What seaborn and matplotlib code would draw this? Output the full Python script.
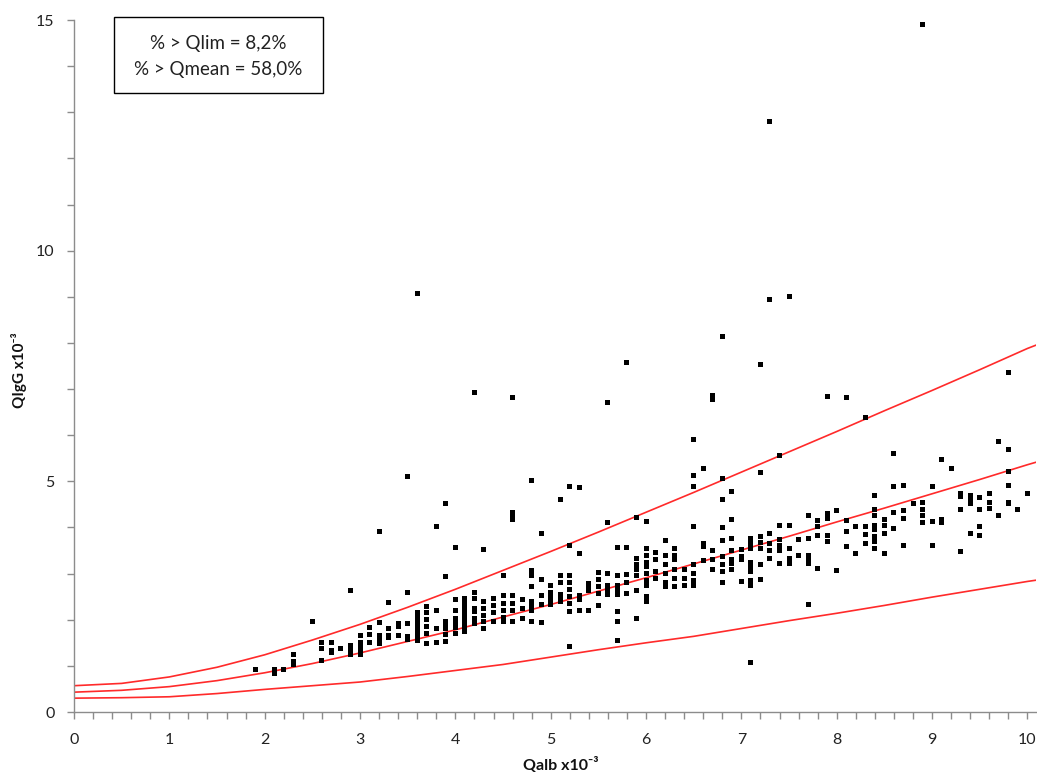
import matplotlib
matplotlib.use("Agg")
import matplotlib.pyplot as plt
import seaborn as sns
import pandas as pd
from matplotlib.patches import Rectangle
from matplotlib.ticker import MultipleLocator

# ---------------- data ----------------
qalb_pts = [
    1.9,
    2.1, 2.1,
    2.2,
    2.3, 2.3, 2.3,
    2.5,
    2.6, 2.6, 2.6,
    2.7, 2.7, 2.7,
    2.8,
    2.9, 2.9, 2.9, 2.9, 2.9,
    3.0, 3.0, 3.0, 3.0, 3.0,
    3.1, 3.1, 3.1,
    3.2, 3.2, 3.2, 3.2, 3.2,
    3.3, 3.3, 3.3, 3.3,
    3.4, 3.4, 3.4,
    3.5, 3.5, 3.5, 3.5, 3.5,
    3.6, 3.6, 3.6, 3.6, 3.6, 3.6, 3.6, 3.6,
    3.7, 3.7, 3.7, 3.7, 3.7, 3.7,
    3.8, 3.8, 3.8, 3.8,
    3.9, 3.9, 3.9, 3.9, 3.9, 3.9, 3.9,
    4.0, 4.0, 4.0, 4.0, 4.0, 4.0, 4.0,
    4.1, 4.1, 4.1, 4.1, 4.1, 4.1, 4.1, 4.1,
    4.2, 4.2, 4.2, 4.2, 4.2, 4.2, 4.2,
    4.3, 4.3, 4.3, 4.3, 4.3, 4.3,
    4.4, 4.4, 4.4, 4.4,
    4.5, 4.5, 4.5, 4.5, 4.5, 4.5,
    4.6, 4.6, 4.6, 4.6, 4.6, 4.6, 4.6, 4.6,
    4.7, 4.7, 4.7,
    4.8, 4.8, 4.8, 4.8, 4.8, 4.8, 4.8, 4.8,
    4.9, 4.9, 4.9, 4.9, 4.9,
    5.0, 5.0, 5.0, 5.0, 5.0,
    5.1, 5.1, 5.1, 5.1, 5.1, 5.1,
    5.2, 5.2, 5.2, 5.2, 5.2, 5.2, 5.2, 5.2, 5.2,
    5.3, 5.3, 5.3, 5.3, 5.3,
    5.4, 5.4, 5.4, 5.4,
    5.5, 5.5, 5.5, 5.5, 5.5,
    5.6, 5.6, 5.6, 5.6, 5.6, 5.6,
    5.7, 5.7, 5.7, 5.7, 5.7, 5.7, 5.7, 5.7,
    5.8, 5.8, 5.8, 5.8, 5.8,
    5.9, 5.9, 5.9, 5.9, 5.9, 5.9, 5.9,
    6.0, 6.0, 6.0, 6.0, 6.0, 6.0, 6.0, 6.0, 6.0, 6.0,
    6.1, 6.1, 6.1, 6.1,
    6.2, 6.2, 6.2, 6.2, 6.2, 6.2,
    6.3, 6.3, 6.3, 6.3, 6.3, 6.3,
    6.4, 6.4, 6.4,
    6.5, 6.5, 6.5, 6.5, 6.5, 6.5, 6.5, 6.5,
    6.6, 6.6, 6.6, 6.6,
    6.7, 6.7, 6.7, 6.7, 6.7,
    6.8, 6.8, 6.8, 6.8, 6.8, 6.8, 6.8, 6.8, 6.8,
    6.9, 6.9, 6.9, 6.9, 6.9, 6.9, 6.9,
    7.0, 7.0, 7.0, 7.0,
    7.1, 7.1, 7.1, 7.1, 7.1, 7.1, 7.1, 7.1, 7.1,
    7.2, 7.2, 7.2, 7.2, 7.2, 7.2, 7.2,
    7.3, 7.3, 7.3, 7.3, 7.3, 7.3,
    7.4, 7.4, 7.4, 7.4, 7.4, 7.4,
    7.5, 7.5, 7.5, 7.5, 7.5,
    7.6, 7.6,
    7.7, 7.7, 7.7, 7.7, 7.7, 7.7,
    7.8, 7.8, 7.8, 7.8,
    7.9, 7.9, 7.9, 7.9, 7.9,
    8.0, 8.0,
    8.1, 8.1, 8.1, 8.1,
    8.2, 8.2,
    8.3, 8.3, 8.3, 8.3,
    8.4, 8.4, 8.4, 8.4, 8.4, 8.4, 8.4, 8.4,
    8.5, 8.5, 8.5, 8.5,
    8.6, 8.6, 8.6, 8.6,
    8.7, 8.7, 8.7, 8.7,
    8.8,
    8.9, 8.9, 8.9, 8.9, 8.9,
    9.0, 9.0, 9.0,
    9.1, 9.1, 9.1,
    9.2,
    9.3, 9.3, 9.3, 9.3,
    9.4, 9.4, 9.4, 9.4,
    9.5, 9.5, 9.5, 9.5,
    9.6, 9.6, 9.6,
    9.7, 9.7,
    9.8, 9.8, 9.8, 9.8, 9.8, 9.8,
    9.9,
    10.0,
]

qigg_pts = [
    0.93,
    0.93, 0.84,
    0.92,
    1.24, 1.09, 1.02,
    1.97,
    1.51, 1.37, 1.11,
    1.51, 1.34, 1.29,
    1.37,
    2.64, 1.44, 1.37, 1.30, 1.24,
    1.65, 1.51, 1.42, 1.31, 1.24,
    1.83, 1.67, 1.50,
    3.92, 1.94, 1.65, 1.58, 1.49,
    2.37, 1.80, 1.65, 1.61,
    1.91, 1.85, 1.65,
    5.11, 2.58, 1.91, 1.63, 1.58,
    9.08, 2.15, 2.05, 1.95, 1.85, 1.75, 1.65, 1.56,
    2.29, 2.15, 2.00, 1.85, 1.70, 1.49,
    4.03, 2.21, 1.80, 1.51,
    4.52, 2.93, 1.96, 1.88, 1.80, 1.67, 1.52,
    3.56, 2.43, 2.21, 2.03, 1.93, 1.83, 1.71,
    2.46, 2.35, 2.25, 2.15, 2.05, 1.95, 1.85, 1.75,
    6.92, 2.59, 2.45, 2.25, 2.17, 2.02, 1.91,
    3.53, 2.39, 2.25, 2.10, 1.96, 1.80,
    2.45, 2.30, 2.15, 1.96,
    2.96, 2.52, 2.35, 2.20, 2.05, 1.96,
    6.81, 4.32, 4.25, 4.18, 2.52, 2.35, 2.20, 1.96,
    2.43, 2.25, 2.03,
    5.02, 3.06, 2.96, 2.72, 2.39, 2.28, 2.20, 1.96,
    3.87, 2.87, 2.52, 2.32, 1.94,
    2.74, 2.60, 2.52, 2.43, 2.32,
    4.60, 2.96, 2.81, 2.54, 2.47, 2.40,
    4.89, 3.60, 2.96, 2.80, 2.65, 2.50, 2.35, 2.17, 1.43,
    4.86, 3.44, 2.52, 2.43, 2.21,
    2.79, 2.72, 2.64, 2.20,
    3.03, 2.87, 2.72, 2.57, 2.30,
    6.70, 4.11, 3.00, 2.74, 2.64, 2.54,
    3.57, 2.96, 2.74, 2.64, 2.54, 2.17, 1.96, 1.56,
    7.58, 3.57, 2.99, 2.80, 2.57,
    4.22, 3.33, 3.20, 3.08, 2.95, 2.63, 2.02,
    4.14, 3.54, 3.40, 3.25, 3.15, 3.00, 2.85, 2.74, 2.50, 2.39,
    3.46, 3.30, 3.04, 2.90,
    3.71, 3.40, 3.20, 3.00, 2.80, 2.72,
    3.55, 3.40, 3.30, 3.08, 2.90, 2.72,
    3.08, 2.90, 2.75,
    5.91, 5.13, 4.89, 4.03, 3.20, 3.00, 2.85, 2.75,
    5.27, 3.66, 3.58, 3.28,
    6.85, 6.78, 3.50, 3.31, 3.09,
    8.13, 5.07, 4.60, 4.00, 3.71, 3.37, 3.20, 3.04, 2.80,
    4.79, 4.17, 3.76, 3.50, 3.31, 3.22, 3.09,
    3.53, 3.38, 3.30, 2.82,
    3.76, 3.65, 3.55, 3.24, 3.14, 3.04, 2.86, 2.75, 1.08,
    7.53, 5.19, 3.80, 3.67, 3.55, 3.19, 2.88,
    12.79, 8.95, 3.87, 3.66, 3.50, 3.33,
    5.56, 4.05, 3.73, 3.60, 3.50, 3.22,
    9.00, 4.05, 3.55, 3.33, 3.22,
    3.73, 3.39,
    4.25, 3.76, 3.40, 3.30, 3.22, 2.34,
    4.16, 4.03, 3.82, 3.11,
    6.83, 4.30, 4.20, 3.82, 3.69,
    4.36, 3.06,
    6.81, 4.16, 3.92, 3.58,
    4.03, 3.44,
    6.39, 4.02, 3.85, 3.66,
    4.70, 4.38, 4.27, 4.05, 3.95, 3.80, 3.69, 3.55,
    4.18, 4.05, 3.86, 3.44,
    5.61, 4.89, 4.33, 3.98,
    4.91, 4.36, 4.19, 3.60,
    4.52,
    14.90, 4.55, 4.38, 4.27, 4.11,
    4.89, 4.14, 3.60,
    5.48, 4.18, 4.10,
    5.27,
    4.74, 4.67, 4.38, 3.47,
    4.70, 4.61, 4.52, 3.87,
    4.65, 4.38, 4.03, 3.82,
    4.73, 4.54, 4.41,
    5.86, 4.27,
    7.36, 5.69, 5.21, 4.91, 4.54, 4.51,
    4.38,
    4.73,
]

curve_x = [0, 0.5, 1, 1.5, 2, 2.5, 3, 3.5, 4, 4.5, 5, 5.5, 6, 6.5, 7,
           7.5, 8, 8.5, 9, 9.5, 10, 10.1]
qlim_upper = [0.57, 0.62, 0.76, 0.97, 1.24, 1.56, 1.90, 2.27, 2.66, 3.07, 3.48,
              3.90, 4.33, 4.76, 5.20, 5.64, 6.08, 6.53, 6.97, 7.42, 7.88, 7.96]
qmean = [0.43, 0.47, 0.55, 0.68, 0.85, 1.05, 1.28, 1.53, 1.78, 2.06, 2.33,
         2.62, 2.91, 3.21, 3.51, 3.81, 4.12, 4.42, 4.73, 5.04, 5.36, 5.42]
qlim_lower = [0.30, 0.31, 0.33, 0.40, 0.49, 0.57, 0.65, 0.77, 0.90, 1.03, 1.19,
              1.35, 1.50, 1.64, 1.81, 1.98, 2.14, 2.31, 2.49, 2.66, 2.83, 2.86]

box_lines = ["% > Qlim = 8,2%", "% > Qmean = 58,0%"]
x_label = "Qalb x10⁻³"
y_label = "QIgG x10⁻³"

# ---------------- figure ----------------
sns.set_theme(style="white")
plt.rcParams['font.family'] = ['Lato', 'DejaVu Sans']

W, H = 1037, 775
fig = plt.figure(figsize=(W / 100, H / 100), dpi=100)
fig.patch.set_facecolor("white")
ax = fig.add_axes([74 / W, 1 - 712 / H, (1036 - 74) / W, (712 - 20) / H])
ax.set_facecolor("white")

red = "#ff2a2a"
for ys in (qlim_upper, qmean, qlim_lower):
    sns.lineplot(x=curve_x, y=ys, ax=ax, color=red, linewidth=1.2,
                 sort=False, estimator=None, legend=False)

sns.scatterplot(x=qalb_pts, y=qigg_pts, ax=ax, marker="s", s=13,
                color="black", edgecolor="none", linewidth=0, legend=False,
                zorder=3)

ax.set_xlim(0, 10.09)
ax.set_ylim(0, 15)
ax.xaxis.set_major_locator(MultipleLocator(1))
ax.xaxis.set_minor_locator(MultipleLocator(0.2))
ax.yaxis.set_major_locator(MultipleLocator(5))
ax.yaxis.set_minor_locator(MultipleLocator(1))

for side in ("top", "right"):
    ax.spines[side].set_visible(False)
for side in ("left", "bottom"):
    ax.spines[side].set_color("#8c8c8c")
    ax.spines[side].set_linewidth(1.0)

ax.tick_params(which="both", direction="out", length=5, width=1,
               color="#8c8c8c", bottom=True, left=True)
ax.tick_params(axis="x", which="major", pad=10, labelsize=11.5, labelcolor="#222222")
ax.tick_params(axis="y", which="major", pad=9, labelsize=11.5, labelcolor="#222222")

ax.set_xlabel(x_label, fontsize=11.5, fontweight="bold", color="#111111")
ax.set_ylabel(y_label, fontsize=11, fontweight="bold", color="#111111")
ax.xaxis.set_label_coords((561 - 74) / 962, (712 - 757) / 692)
ax.yaxis.set_label_coords((27 - 74) / 962, (712 - 370) / 692)
ax.grid(False)

# annotation box
rect = Rectangle((114 / W, 1 - 93 / H), 209 / W, 76 / H, transform=fig.transFigure,
                 facecolor="white", edgecolor="black", linewidth=1.0, zorder=5)
fig.patches.append(rect)
fig.text(218 / W, 1 - 44 / H, box_lines[0], ha="center", va="center",
         fontsize=13.5, color="#222222", zorder=6)
fig.text(218 / W, 1 - 69 / H, box_lines[1], ha="center", va="center",
         fontsize=13.5, color="#222222", zorder=6)

fig.savefig("out.png", dpi=100, facecolor="white")
